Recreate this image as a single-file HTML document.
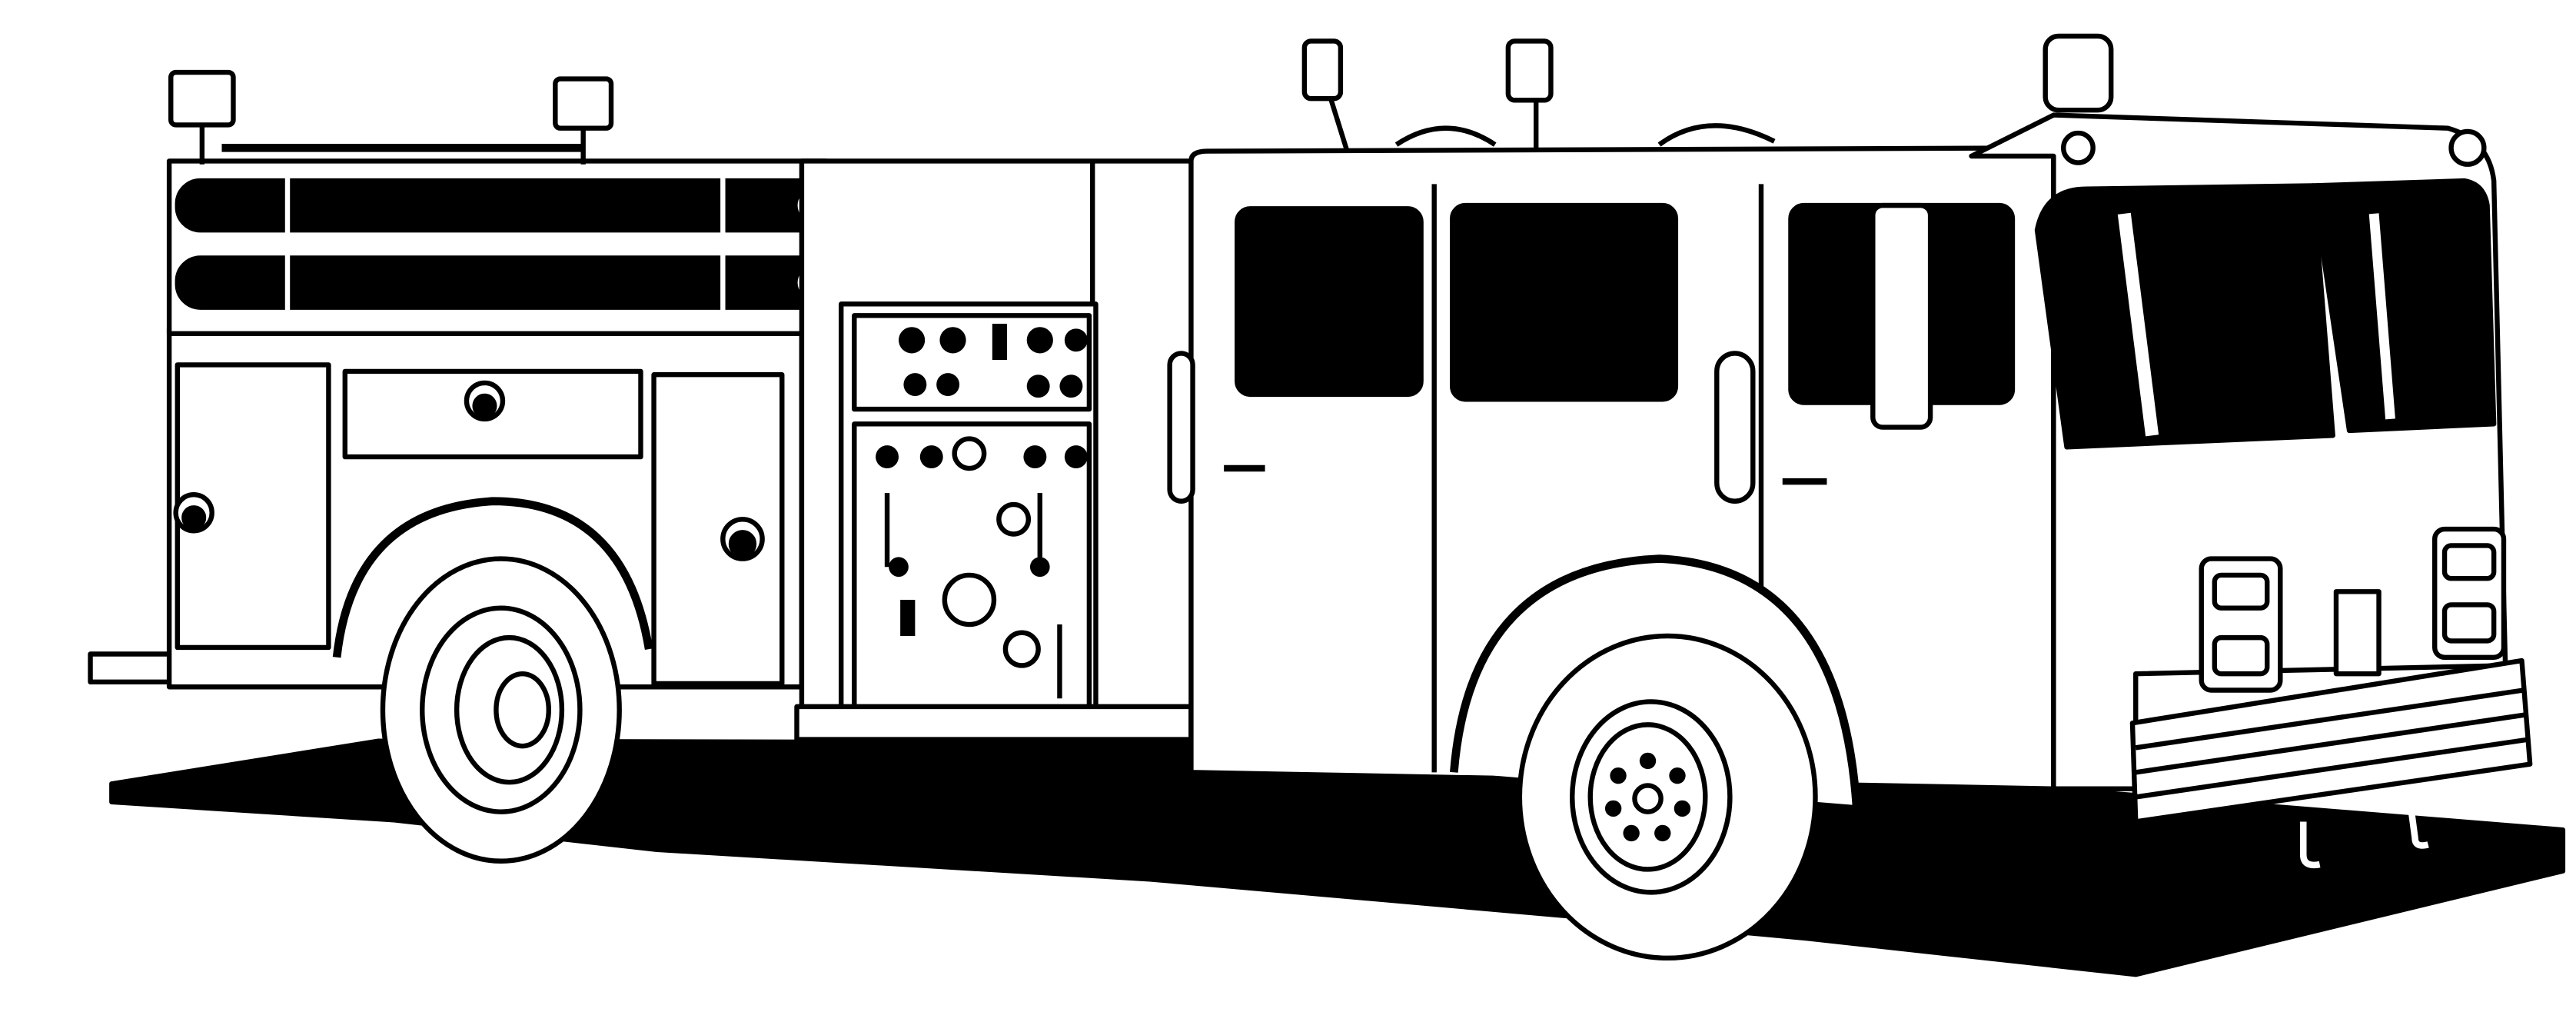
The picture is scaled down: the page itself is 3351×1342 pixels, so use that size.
<!DOCTYPE html>
<html><head><meta charset="utf-8"><style>
html,body{margin:0;padding:0;background:#fff;}
svg{display:block;}
</style></head><body>
<svg width="3351" height="1342" viewBox="0 0 1568 628" preserveAspectRatio="none" xmlns="http://www.w3.org/2000/svg">
<g fill="none" stroke="#000" stroke-width="3" stroke-linejoin="round">
<!-- ground shadow -->
<path d="M68,477 L230,451 L725,452 L1250,480 L1560,505 L1560,530 L1300,593 L1100,571 L950,557 L700,535 L400,517 L240,499 L68,488 Z" fill="#000"/>
<!-- rear step -->
<path d="M55,398 L230,398 L230,415 L55,415 Z" fill="#fff"/>
<!-- rear compartment body -->
<rect x="103" y="200" width="385" height="218" fill="#fff"/>
<rect x="108" y="222" width="92" height="172" fill="#fff"/>
<rect x="210" y="226" width="180" height="52" fill="#fff"/>
<rect x="398" y="228" width="78" height="188" fill="#fff"/>
<circle cx="118" cy="312" r="11" fill="#fff"/><circle cx="118" cy="315" r="6" fill="#000"/>
<circle cx="295" cy="244" r="11" fill="#fff"/><circle cx="295" cy="247" r="6" fill="#000"/>
<circle cx="452" cy="328" r="12" fill="#fff"/><circle cx="452" cy="331" r="7" fill="#000"/>
<!-- hose bed -->
<rect x="103" y="98" width="400" height="105" fill="#fff"/>
<rect x="108" y="110" width="395" height="30" rx="14" fill="#000"/>
<rect x="108" y="157" width="395" height="30" rx="14" fill="#000"/>
<line x1="175" y1="108" x2="175" y2="192" stroke="#fff" stroke-width="3"/>
<line x1="440" y1="108" x2="440" y2="192" stroke="#fff" stroke-width="3"/>
<circle cx="495" cy="125" r="11" fill="#fff"/><circle cx="495" cy="172" r="11" fill="#fff"/>
<line x1="135" y1="90" x2="355" y2="90" stroke-width="5"/>
<rect x="104" y="44" width="38" height="32" rx="3" fill="#fff"/><line x1="123" y1="76" x2="123" y2="100"/>
<rect x="338" y="48" width="34" height="30" rx="3" fill="#fff"/><line x1="355" y1="78" x2="355" y2="100"/>
<!-- side body / middle -->
<rect x="488" y="98" width="240" height="348" fill="#fff"/>
<line x1="665" y1="98" x2="665" y2="440"/>
<!-- pump panel -->
<rect x="512" y="185" width="155" height="255" fill="#fff"/>
<rect x="520" y="192" width="143" height="57" fill="#fff"/>
<rect x="520" y="258" width="143" height="177" fill="#fff"/>
<g fill="#000" stroke="none">
<circle cx="555" cy="207" r="8"/><circle cx="580" cy="207" r="8"/><circle cx="633" cy="207" r="8"/><circle cx="655" cy="207" r="7"/>
<circle cx="557" cy="234" r="7"/><circle cx="577" cy="234" r="7"/><circle cx="632" cy="235" r="7"/><circle cx="652" cy="235" r="7"/>
<rect x="604" y="197" width="9" height="22"/>
<circle cx="540" cy="278" r="7"/><circle cx="567" cy="278" r="7"/><circle cx="630" cy="278" r="7"/><circle cx="655" cy="278" r="7"/>
<rect x="548" y="365" width="9" height="22"/>
<circle cx="547" cy="345" r="6"/><circle cx="633" cy="345" r="6"/>
</g>
<circle cx="590" cy="365" r="15" fill="#fff"/><circle cx="617" cy="316" r="9" fill="#fff"/><circle cx="622" cy="395" r="10" fill="#fff"/><circle cx="590" cy="276" r="9" fill="#fff"/>
<line x1="540" y1="300" x2="540" y2="345"/><line x1="633" y1="300" x2="633" y2="345"/><line x1="645" y1="380" x2="645" y2="425"/>
<!-- running board -->
<rect x="485" y="430" width="240" height="20" fill="#fff"/>
<!-- crew cab -->
<path d="M725,98 Q725,92 735,92 L1250,90 L1250,480 L725,470 Z" fill="#fff"/>
<line x1="873" y1="112" x2="873" y2="470"/><line x1="1072" y1="112" x2="1072" y2="470"/>
<rect x="753" y="127" width="112" height="113" rx="8" fill="#000"/>
<rect x="884" y="125" width="136" height="118" rx="8" fill="#000"/>
<rect x="1090" y="125" width="135" height="120" rx="8" fill="#000"/>
<rect x="712" y="215" width="14" height="90" rx="7" fill="#fff"/>
<rect x="1045" y="215" width="22" height="90" rx="11" fill="#fff"/>
<line x1="745" y1="285" x2="770" y2="285" stroke-width="4"/><line x1="1085" y1="293" x2="1112" y2="293" stroke-width="4"/>
<rect x="1140" y="125" width="35" height="135" rx="6" fill="#fff"/>
<path d="M850,88 Q880,68 910,88 M1010,88 Q1040,66 1080,86" />
<rect x="794" y="25" width="22" height="35" rx="4" fill="#fff"/><line x1="810" y1="60" x2="820" y2="92"/>
<rect x="918" y="25" width="26" height="36" rx="4" fill="#fff"/><line x1="935" y1="61" x2="935" y2="92"/>
<!-- front cab -->
<path d="M1200,95 L1250,70 L1490,78 Q1515,85 1518,110 L1525,405 L1300,410 L1300,480 L1250,480 L1250,95 Z" fill="#fff"/>
<path d="M1240,140 Q1245,115 1270,115 L1408,113 L1420,265 L1258,272 Z" fill="#000"/>
<path d="M1408,113 L1500,110 Q1512,112 1514,125 L1518,258 L1430,262 Z" fill="#000"/>
<line x1="1293" y1="130" x2="1310" y2="265" stroke="#fff" stroke-width="8"/>
<line x1="1445" y1="130" x2="1455" y2="255" stroke="#fff" stroke-width="6"/>
<rect x="1245" y="22" width="40" height="45" rx="8" fill="#fff"/>
<circle cx="1265" cy="90" r="9" fill="#fff"/><circle cx="1502" cy="90" r="10" fill="#fff"/>
<rect x="1340" y="340" width="48" height="80" rx="6" fill="#fff"/>
<rect x="1348" y="350" width="32" height="20" rx="4" fill="#fff"/><rect x="1348" y="388" width="32" height="22" rx="4" fill="#fff"/>
<rect x="1482" y="322" width="42" height="78" rx="6" fill="#fff"/>
<rect x="1488" y="332" width="30" height="20" rx="4" fill="#fff"/><rect x="1488" y="368" width="30" height="22" rx="4" fill="#fff"/>
<rect x="1422" y="360" width="26" height="50" fill="#fff"/>
<!-- bumper -->
<path d="M1298,440 L1535,402 L1540,465 L1300,500 Z" fill="#fff"/>
<line x1="1300" y1="455" x2="1536" y2="420"/><line x1="1300" y1="470" x2="1537" y2="435"/><line x1="1300" y1="485" x2="1539" y2="450"/>
<path d="M1402,500 L1402,520 Q1402,528 1412,526" stroke="#fff" stroke-width="4"/>
<path d="M1468,495 L1470,510 Q1470,516 1478,514" stroke="#fff" stroke-width="4"/>
<!-- fenders -->
<path d="M205,400 Q215,310 300,305 Q380,305 395,395" stroke-width="5" fill="none"/>
<path d="M885,470 Q895,345 1010,340 Q1120,345 1130,490" stroke-width="5" fill="#fff"/>
<!-- rear wheel -->
<ellipse cx="305" cy="432" rx="72" ry="92" fill="#fff"/>
<ellipse cx="305" cy="432" rx="48" ry="62" fill="#fff"/>
<ellipse cx="310" cy="432" rx="32" ry="44" fill="#fff"/>
<ellipse cx="318" cy="432" rx="16" ry="22" fill="#fff"/>
<!-- front wheel -->
<ellipse cx="1015" cy="485" rx="90" ry="98" fill="#fff"/>
<ellipse cx="1005" cy="485" rx="48" ry="58" fill="#fff"/>
<ellipse cx="1003" cy="485" rx="35" ry="44" fill="#fff"/>
<g fill="#000" stroke="none">
<circle cx="1003" cy="463" r="5"/><circle cx="1021" cy="472" r="5"/><circle cx="1024" cy="492" r="5"/><circle cx="1012" cy="507" r="5"/><circle cx="993" cy="507" r="5"/><circle cx="982" cy="492" r="5"/><circle cx="985" cy="472" r="5"/>
</g>
<circle cx="1003" cy="486" r="8" fill="#fff"/>
</g>
</svg>
</body></html>
